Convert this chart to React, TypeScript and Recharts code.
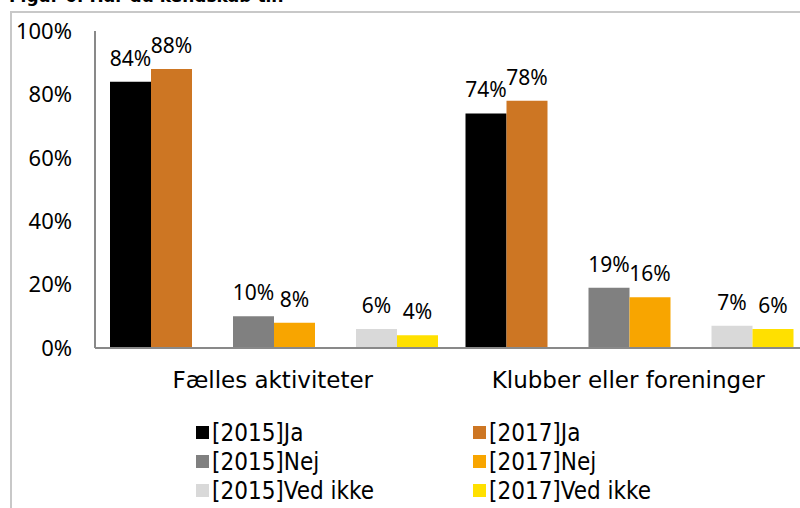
import React from 'react';
import { BarChart, Bar, XAxis, YAxis, LabelList, Legend } from 'recharts';

const categories = ['Fælles aktiviteter', 'Klubber eller foreninger'];
const ja2015 = [84, 74];
const ja2017 = [88, 78];
const nej2015 = [10, 19];
const nej2017 = [8, 16];
const ved2015 = [6, 7];
const ved2017 = [4, 6];
const yTicks = [0, 20, 40, 60, 80, 100];
const titleText = 'Figur 6: Har du kendskab til:';

const series = [
  { key: 'ja2015', name: '[2015]Ja', color: '#000000' },
  { key: 'ja2017', name: '[2017]Ja', color: '#CD7623' },
  { key: 'gap1', name: '', color: 'none' },
  { key: 'nej2015', name: '[2015]Nej', color: '#808080' },
  { key: 'nej2017', name: '[2017]Nej', color: '#F8A500' },
  { key: 'gap2', name: '', color: 'none' },
  { key: 'ved2015', name: '[2015]Ved ikke', color: '#D9D9D9' },
  { key: 'ved2017', name: '[2017]Ved ikke', color: '#FFE000' },
];

const legendColumns = [
  ['ja2015', 'nej2015', 'ved2015'],
  ['ja2017', 'nej2017', 'ved2017'],
];

const data = categories.map((c, i) => ({
  name: c,
  ja2015: ja2015[i],
  ja2017: ja2017[i],
  nej2015: nej2015[i],
  nej2017: nej2017[i],
  ved2015: ved2015[i],
  ved2017: ved2017[i],
}));

const CAT_FONT = 'DejaVu Sans, sans-serif';
const LEGEND_FONT = '"DejaVu Sans Condensed", "DejaVu Sans", sans-serif';

const renderLegend = () => (
  <div style={{ display: 'flex', fontFamily: LEGEND_FONT, fontStretch: 'condensed', fontSize: 24, color: '#000' }}>
    {legendColumns.map((col, ci) => (
      <div key={ci} style={{ width: 277 }}>
        {col.map((k) => {
          const s = series.find((x) => x.key === k)!;
          return (
            <div key={k} style={{ display: 'flex', alignItems: 'center', height: 29, whiteSpace: 'nowrap' }}>
              <span style={{ display: 'inline-block', width: 13, height: 13, background: s.color, marginRight: 3 }} />
              <span>{s.name}</span>
            </div>
          );
        })}
      </div>
    ))}
  </div>
);

export default function App() {
  return (
    <div style={{ position: 'absolute', left: 0, top: 0, width: 800, height: 508, overflow: 'hidden', background: '#fff' }}>
      <div
        style={{
          position: 'absolute',
          left: 9,
          top: -13,
          fontFamily: 'DejaVu Sans, sans-serif',
          fontWeight: 'bold',
          fontSize: 17,
          lineHeight: '18px',
          whiteSpace: 'nowrap',
          color: '#000',
        }}
      >
        {titleText}
      </div>
      <div
        style={{
          position: 'absolute',
          left: 10,
          top: 11,
          width: 800,
          height: 500,
          borderTop: '2px solid #C8C8C8',
          borderLeft: '2px solid #C8C8C8',
        }}
      />
      <div style={{ position: 'absolute', left: 0, top: 0 }}>
        <BarChart
          width={820}
          height={508}
          data={data}
          margin={{ top: 31, right: 14, bottom: 100, left: 0 }}
          barCategoryGap={15}
          barGap={0}
        >
          <XAxis
            dataKey="name"
            height={60}
            tickLine={false}
            tickSize={0}
            tickMargin={24}
            axisLine={{ stroke: '#898989', strokeWidth: 2 }}
            tick={{ fill: '#000', fontSize: 23, fontFamily: CAT_FONT }}
          />
          <YAxis
            width={95}
            domain={[0, 100]}
            ticks={yTicks}
            tickFormatter={(v: number) => `${v}%`}
            tickLine={false}
            tickSize={0}
            tickMargin={23}
            axisLine={{ stroke: '#898989', strokeWidth: 2 }}
            tick={{ fill: '#000', fontSize: 22, fontFamily: 'Noto Sans, sans-serif' }}
          />
          <Legend
            content={renderLegend}
            layout="horizontal"
            verticalAlign="middle"
            align="center"
            wrapperStyle={{ left: 196, top: 418, width: 570 }}
          />
          {series.map((s) => (
            <Bar key={s.key} dataKey={s.key} fill={s.color} isAnimationActive={false} legendType="none">
              {s.name !== '' && (
                <LabelList
                  dataKey={s.key}
                  position="top"
                  offset={16}
                  formatter={(v: any) => `${v}%`}
                  style={{ fill: '#000', fontSize: 21, fontFamily: 'Noto Sans, sans-serif' }}
                />
              )}
            </Bar>
          ))}
        </BarChart>
      </div>
    </div>
  );
}
